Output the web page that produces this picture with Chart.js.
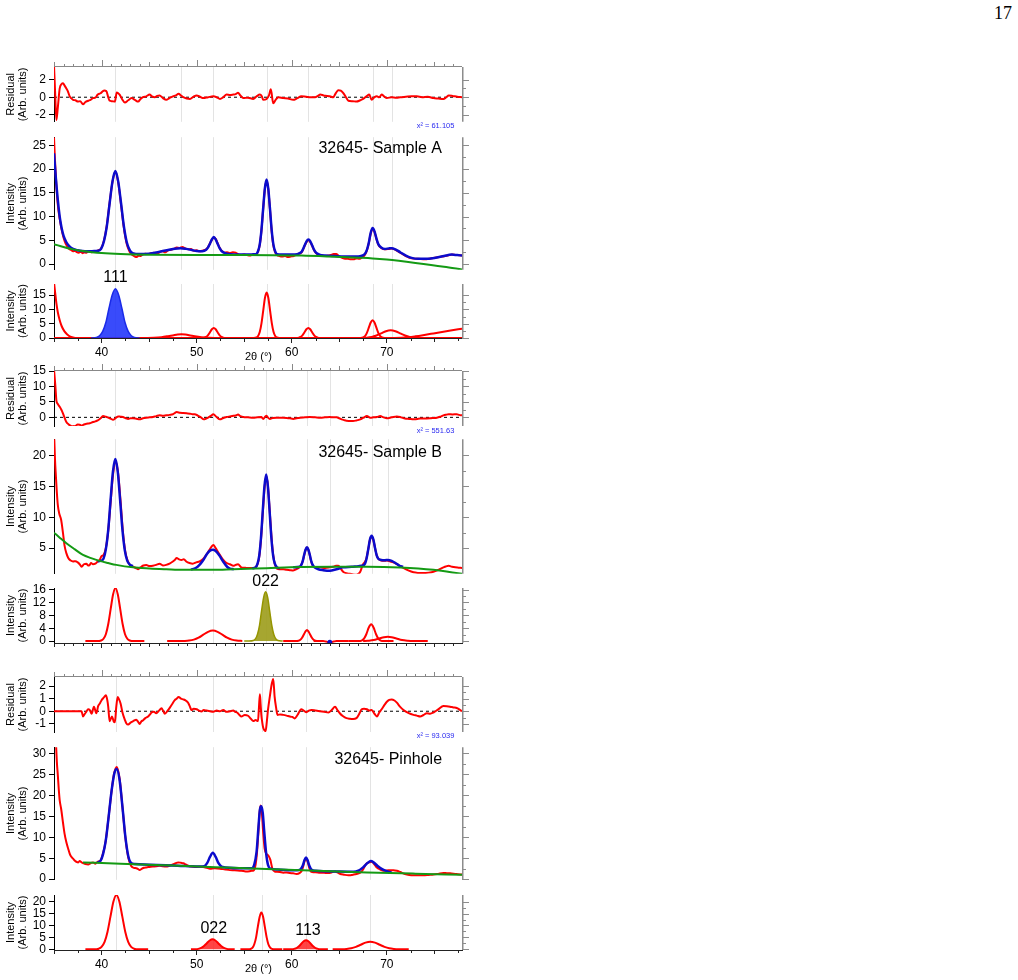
<!DOCTYPE html>
<html><head><meta charset="utf-8">
<script src="https://cdn.jsdelivr.net/npm/chart.js@4.4.1/dist/chart.umd.min.js"></script>
<style>
html,body{margin:0;padding:0;background:#fff;}
#page{position:relative;width:1018px;height:980px;overflow:hidden;background:#fff;}
#page canvas{position:absolute;left:0;}
#pn{position:absolute;left:950px;top:4px;width:62px;text-align:right;font:18px 'Liberation Serif','DejaVu Serif',serif;line-height:18px;color:#000;}
</style></head>
<body><div id="page"><div id="pn">17</div></div>
<script>
// ---------- axes ----------
const X_MIN = 35, X_MAX = 77.9;
const xMajorTicks = [40, 50, 60, 70];
const yTicksResA = [-2, 0, 2];
const yTicksIntA = [0, 5, 10, 15, 20, 25];
const yTicksPkA = [0, 5, 10, 15];
const yTicksResB = [0, 5, 10, 15];
const yTicksIntB = [5, 10, 15, 20];
const yTicksPkB = [0, 4, 8, 12, 16];
const yTicksResP = [-1, 0, 1, 2];
const yTicksIntP = [0, 5, 10, 15, 20, 25, 30];
const yTicksPkP = [0, 5, 10, 15, 20];

// ---------- fitted peak positions (vertical guide lines) ----------
const peaksA = [41.46, 48.34, 51.74, 57.36, 61.74, 68.5, 70.5];
const peaksB = [41.46, 51.67, 57.25, 61.6, 64.0, 68.4, 70.1];
const peaksP = [41.53, 51.67, 56.82, 61.5, 68.2];

const zeroLine = [[35, 0], [77.9, 0]];

// ---------- Sample A ----------
const resA = [[35.0,3.6],[35.12,0.5],[35.25,-2.6],[35.4,-1.2],[35.6,1.0],[35.8,1.5],[35.95,1.6],[36.1,1.35],[36.3,1.0],[36.45,0.7],[36.65,0.1],[36.8,-0.1],[37.0,-0.3],[37.25,-0.35],[37.5,-0.5],[37.75,-0.45],[38.05,-0.8],[38.3,-0.55],[38.6,-0.4],[38.85,-0.3],[39.1,-0.1],[39.35,-0.05],[39.6,0.3],[39.9,0.45],[40.15,0.7],[40.3,0.75],[40.5,0.7],[40.7,0.0],[40.85,-0.4],[41.1,-0.45],[41.4,-0.5],[41.6,0.55],[41.75,0.45],[41.9,0.3],[42.15,-0.2],[42.45,-0.6],[42.8,-0.35],[43.15,-0.1],[43.5,-0.3],[43.85,-0.5],[44.1,-0.2],[44.35,0.0],[44.7,0.1],[45.05,0.3],[45.3,0.1],[45.6,0.0],[45.85,0.15],[46.1,0.2],[46.45,-0.1],[46.8,-0.3],[47.15,-0.1],[47.5,0.1],[47.8,0.2],[48.1,0.4],[48.35,0.2],[48.6,0.0],[48.95,-0.15],[49.3,-0.2],[49.65,0.05],[50.0,0.2],[50.35,0.05],[50.7,-0.1],[51.2,0.0],[51.75,0.1],[52.1,0.0],[52.45,-0.2],[52.8,0.0],[53.15,0.3],[53.5,0.25],[53.85,0.3],[54.1,0.35],[54.35,0.5],[54.6,0.2],[54.9,-0.1],[55.4,-0.05],[55.95,-0.2],[56.3,0.1],[56.65,0.3],[56.85,0.1],[57.0,-0.3],[57.35,-0.2],[57.6,0.2],[57.8,0.9],[58.05,-0.7],[58.3,-0.3],[58.6,0.0],[59.1,-0.1],[59.6,-0.15],[60.15,-0.3],[60.6,-0.1],[61.0,0.1],[61.5,0.05],[62.0,0.0],[62.45,0.0],[62.75,0.15],[63.0,0.3],[63.35,0.2],[63.7,0.15],[64.0,0.1],[64.35,0.0],[64.65,0.5],[64.9,0.8],[65.15,0.75],[65.4,0.5],[65.7,0.0],[65.95,-0.4],[66.4,-0.45],[66.8,-0.5],[67.2,-0.35],[67.5,-0.2],[67.85,0.1],[68.15,0.3],[68.4,-0.3],[68.7,0.0],[68.95,0.1],[69.2,0.0],[69.45,0.3],[69.7,0.1],[70.0,-0.1],[70.5,0.0],[71.0,-0.05],[71.4,0.0],[72.0,0.05],[72.6,0.1],[73.15,0.1],[73.7,0.0],[74.3,0.05],[74.9,-0.1],[75.4,-0.15],[75.95,-0.2],[76.25,0.0],[76.5,0.2],[76.9,0.15],[77.4,0.05],[77.9,0.0]];

const dataA = [[35.0,26.7],[35.1,22],[35.25,16.5],[35.4,12.5],[35.6,9.5],[35.8,7.3],[36.0,5.6],[36.2,4.4],[36.4,3.7],[36.6,3.2],[36.8,3.0],[37.0,2.7],[37.2,2.8],[37.4,2.5],[37.6,2.4],[37.8,2.6],[38.0,2.3],[38.2,2.5],[38.4,2.4],[38.6,2.7],[38.8,2.6],[39.0,2.5],[39.2,2.7],[39.4,2.6],[39.65,2.9],[39.95,3.3],[40.25,4.9],[40.55,8.1],[40.85,12.9],[41.15,17.3],[41.45,19.5],[41.75,17.2],[42.05,12.5],[42.35,7.6],[42.65,4.2],[42.95,2.6],[43.25,1.9],[43.5,1.6],[43.7,1.5],[43.9,1.8],[44.1,1.7],[44.3,2.0],[44.6,2.2],[44.9,2.1],[45.2,2.3],[45.5,2.4],[45.8,2.2],[46.1,2.5],[46.4,2.7],[46.7,2.5],[47.0,2.9],[47.3,3.0],[47.6,3.2],[47.9,3.5],[48.2,3.4],[48.5,3.6],[48.8,3.3],[49.1,3.1],[49.4,3.2],[49.7,2.8],[50.0,2.9],[50.3,2.7],[50.6,2.8],[51.0,3.1],[51.2,3.6],[51.4,4.4],[51.6,5.1],[51.8,5.6],[52.0,5.3],[52.2,4.4],[52.4,3.5],[52.6,2.9],[52.9,2.4],[53.2,2.5],[53.5,2.3],[53.8,2.5],[54.1,2.4],[54.4,2.0],[54.7,1.9],[55.0,2.0],[55.3,1.9],[55.6,1.8],[55.9,2.0],[56.25,2.0],[56.45,2.6],[56.63,4.0],[56.81,7.0],[56.99,11.5],[57.17,15.7],[57.35,17.6],[57.53,15.8],[57.71,11.5],[57.89,6.9],[58.07,3.9],[58.25,2.5],[58.45,1.9],[58.7,1.7],[59.0,1.6],[59.3,1.7],[59.6,1.5],[59.9,1.6],[60.2,1.7],[60.6,2.1],[61.0,2.4],[61.15,2.9],[61.35,3.8],[61.55,4.6],[61.75,5.0],[61.95,4.6],[62.15,3.8],[62.35,2.9],[62.55,2.3],[62.9,1.9],[63.2,1.8],[63.5,1.7],[63.8,1.8],[64.1,1.9],[64.4,2.1],[64.7,2.1],[65.0,1.6],[65.3,1.3],[65.6,1.1],[65.9,1.1],[66.2,1.0],[66.5,1.0],[66.8,1.2],[67.1,1.1],[67.3,1.3],[67.7,2.0],[67.9,2.9],[68.1,4.4],[68.3,6.4],[68.5,7.4],[68.7,6.8],[68.9,5.3],[69.1,4.1],[69.4,3.4],[69.8,3.1],[70.2,3.2],[70.5,3.3],[70.9,3.0],[71.4,2.4],[72.0,1.7],[72.6,1.2],[73.3,1.1],[74.0,1.0],[74.6,1.2],[75.2,1.4],[75.8,1.6],[76.4,1.8],[76.9,2.0],[77.4,1.9],[77.9,1.8]];

const fitA = [[35.0,23.3],[35.1,20.5],[35.2,18.0],[35.3,15.6],[35.4,13.5],[35.5,11.6],[35.6,10.0],[35.7,8.7],[35.8,7.6],[36.0,6.0],[36.3,4.6],[36.6,3.8],[37.0,3.2],[37.5,2.9],[38.0,2.75],[38.5,2.7],[39.0,2.72],[39.35,2.75],[39.65,2.8],[39.95,3.2],[40.25,4.8],[40.55,7.9],[40.85,12.8],[41.15,17.4],[41.45,19.6],[41.75,17.4],[42.05,12.8],[42.35,7.9],[42.65,4.6],[42.95,3.0],[43.25,2.3],[43.6,2.15],[44.0,2.1],[45.0,2.2],[46.0,2.55],[47.0,2.95],[47.7,3.25],[48.3,3.35],[48.9,3.2],[49.5,2.95],[50.0,2.75],[50.6,2.7],[51.0,3.0],[51.2,3.5],[51.4,4.3],[51.6,5.2],[51.8,5.7],[52.0,5.2],[52.2,4.3],[52.4,3.4],[52.6,2.8],[53.0,2.3],[53.5,2.1],[54.5,2.0],[55.5,2.0],[56.0,2.05],[56.25,2.1],[56.45,2.7],[56.63,4.1],[56.81,7.1],[56.99,11.6],[57.17,15.9],[57.35,17.8],[57.53,15.9],[57.71,11.6],[57.89,7.1],[58.07,4.1],[58.25,2.7],[58.45,2.1],[59.0,2.0],[60.0,2.0],[60.6,2.1],[61.0,2.5],[61.15,3.0],[61.35,3.9],[61.55,4.8],[61.75,5.2],[61.95,4.8],[62.15,3.9],[62.35,3.0],[62.55,2.4],[62.9,2.0],[63.5,1.8],[64.5,1.7],[66.0,1.6],[67.0,1.6],[67.3,1.7],[67.7,2.2],[67.9,3.0],[68.1,4.5],[68.3,6.6],[68.5,7.6],[68.7,6.9],[68.9,5.4],[69.1,4.2],[69.4,3.5],[69.8,3.2],[70.2,3.3],[70.5,3.35],[70.9,3.1],[71.4,2.5],[72.0,1.8],[72.6,1.3],[73.3,1.1],[74.0,1.1],[75.0,1.3],[76.0,1.7],[76.8,2.0],[77.4,1.9],[77.9,1.8]];

const bgA = [[35,4.2],[36,3.6],[37,3.1],[38,2.75],[39,2.5],[40,2.32],[42,2.12],[45,1.97],[50,1.9],[55,1.9],[58,1.88],[61,1.8],[64,1.6],[67,1.35],[68.5,1.2],[70,0.95],[73,0.25],[76,-0.55],[77.9,-1.15]];

const compA_low = [[35.0,19.5],[35.1,16.5],[35.25,12.2],[35.4,9.0],[35.6,6.2],[35.8,4.2],[36.1,2.3],[36.4,1.2],[36.65,0.6],[37.0,0.2],[37.4,0],[38,0]];
const compA_111 = [[38.9,0],[39.46,0.19],[39.79,0.76],[40.12,2.3],[40.46,5.5],[40.79,10.5],[41.13,15.1],[41.46,17.2],[41.79,15.1],[42.13,10.5],[42.46,5.5],[42.8,2.3],[43.13,0.76],[43.46,0.19],[44.0,0]];
const compA_48 = [[44.5,0],[45.5,0.1],[46.3,0.3],[47.0,0.65],[47.6,1.0],[48.0,1.2],[48.4,1.3],[48.8,1.2],[49.2,1.0],[49.8,0.6],[50.5,0.27],[51.3,0.08],[52.2,0]];
const compA_52 = [[50.4,0],[50.8,0.11],[51.0,0.38],[51.2,1.0],[51.4,2.03],[51.6,3.05],[51.8,3.5],[52.0,3.05],[52.2,2.03],[52.4,1.0],[52.6,0.38],[52.8,0.11],[53.2,0]];
const compA_57 = [[55.9,0],[56.28,0.18],[56.46,0.7],[56.64,2.15],[56.82,5.2],[57.0,9.6],[57.18,14.0],[57.36,15.9],[57.54,14.0],[57.72,9.6],[57.9,5.2],[58.08,2.15],[58.26,0.7],[58.44,0.18],[58.8,0]];
const compA_62 = [[60.3,0],[60.74,0.11],[60.94,0.38],[61.14,1.0],[61.34,2.03],[61.54,3.05],[61.74,3.5],[61.94,3.05],[62.14,2.03],[62.34,1.0],[62.54,0.38],[62.74,0.11],[63.1,0]];
const compA_68 = [[67.1,0],[67.5,0.2],[67.7,0.67],[67.9,1.8],[68.1,3.6],[68.3,5.4],[68.5,6.2],[68.7,5.4],[68.9,3.6],[69.1,1.8],[69.3,0.67],[69.5,0.2],[69.9,0]];
const compA_70 = [[67.0,0],[67.9,0.12],[68.4,0.36],[68.9,0.88],[69.4,1.64],[69.9,2.38],[70.4,2.7],[70.9,2.38],[71.4,1.64],[71.9,0.88],[72.4,0.36],[72.9,0.12],[73.8,0]];
const compA_rise = [[70.5,0],[71.5,0.1],[72.3,0.3],[73.0,0.6],[73.8,1.0],[74.9,1.6],[75.8,2.1],[76.7,2.6],[77.9,3.25]];

// ---------- Sample B ----------
const resB = [[35.0,15.5],[35.15,9.9],[35.25,5.5],[35.4,4.3],[35.6,3.4],[35.8,2.3],[35.95,1.2],[36.1,0.0],[36.3,-1.5],[36.55,-2.3],[36.8,-2.8],[37.0,-2.9],[37.2,-2.9],[37.5,-2.3],[37.7,-2.4],[37.9,-2.7],[38.15,-2.3],[38.4,-2.1],[38.75,-1.9],[39.1,-1.5],[39.35,-1.3],[39.6,-1.0],[39.9,-0.3],[40.15,0.4],[40.45,0.2],[40.7,-0.1],[41.0,-0.5],[41.2,-0.8],[41.5,-0.2],[41.75,0.3],[42.0,0.2],[42.25,0.1],[42.5,-0.2],[42.8,-0.5],[43.05,-0.3],[43.3,-0.3],[43.65,-0.45],[44.0,-0.65],[44.35,-0.3],[44.7,-0.1],[45.05,0.0],[45.4,0.1],[45.75,0.4],[46.1,0.65],[46.45,0.5],[46.8,0.65],[47.15,0.8],[47.5,1.0],[47.7,1.4],[47.9,1.7],[48.25,1.5],[48.6,1.4],[48.95,1.3],[49.3,1.2],[49.55,1.0],[49.8,1.0],[50.15,0.5],[50.45,0.0],[50.75,-0.65],[51.0,-0.4],[51.2,-0.1],[51.5,0.5],[51.75,1.0],[52.1,0.1],[52.45,-0.65],[52.8,-0.2],[53.15,0.1],[53.5,0.3],[53.85,0.5],[54.1,0.6],[54.35,0.9],[54.6,0.4],[54.9,0.1],[55.4,0.0],[55.95,-0.1],[56.4,0.05],[56.8,0.1],[57.0,-0.5],[57.2,0.2],[57.35,0.5],[57.5,-0.1],[57.7,-0.5],[58.0,-0.2],[58.4,-0.1],[58.9,-0.15],[59.45,-0.2],[59.8,-0.3],[60.15,-0.5],[60.5,-0.3],[60.85,-0.1],[61.4,0.0],[61.9,0.1],[62.45,0.0],[63.0,-0.1],[63.5,0.0],[64.0,0.1],[64.35,0.0],[64.7,0.0],[65.0,-0.3],[65.25,-0.65],[65.5,-0.9],[65.75,-1.1],[66.1,-1.15],[66.45,-1.2],[66.8,-1.0],[67.2,-0.65],[67.55,-0.1],[67.9,0.4],[68.25,-0.1],[68.6,0.0],[68.95,0.1],[69.3,0.4],[69.65,0.0],[70.0,-0.3],[70.5,0.0],[71.05,0.3],[71.5,0.0],[71.9,-0.4],[72.35,-0.5],[72.8,-0.65],[73.15,-0.55],[73.5,-0.4],[74.0,-0.35],[74.55,-0.3],[74.9,-0.2],[75.25,-0.1],[75.6,0.2],[75.95,0.65],[76.2,0.85],[76.5,1.0],[76.9,0.95],[77.35,1.0],[77.6,0.8],[77.9,0.65]];

const dataB = [[35.0,24],[35.1,19.5],[35.2,16.6],[35.3,14.0],[35.4,12.0],[35.55,10.6],[35.75,9.6],[35.95,7.4],[36.1,5.5],[36.3,4.2],[36.5,3.4],[36.75,3.0],[37.0,2.85],[37.25,2.9],[37.5,2.7],[37.7,2.4],[37.9,2.0],[38.15,2.4],[38.4,2.5],[38.6,2.2],[38.75,2.3],[38.9,2.6],[39.1,2.4],[39.35,2.5],[39.6,2.85],[39.8,3.1],[40.0,3.7],[40.2,3.9],[40.45,5.0],[40.7,7.8],[40.95,12.3],[41.2,16.8],[41.5,19.0],[41.75,17.0],[42.0,12.6],[42.25,7.6],[42.5,4.4],[42.75,2.9],[43.0,2.3],[43.3,2.0],[43.6,1.8],[43.85,1.6],[44.1,1.9],[44.4,2.2],[44.7,2.3],[45.05,2.1],[45.4,2.15],[45.75,2.3],[46.1,2.5],[46.45,2.2],[46.8,2.3],[47.15,2.5],[47.5,2.85],[47.7,3.1],[47.9,3.4],[48.15,3.2],[48.4,3.1],[48.65,3.2],[48.9,2.85],[49.25,2.6],[49.6,2.5],[49.95,2.7],[50.3,2.85],[50.65,3.2],[51.0,3.9],[51.3,4.6],[51.55,5.2],[51.75,5.5],[52.0,5.0],[52.2,4.5],[52.45,3.9],[52.8,3.1],[53.15,2.6],[53.5,2.4],[53.85,2.15],[54.1,2.3],[54.35,2.4],[54.7,1.9],[55.0,1.85],[55.25,1.8],[55.6,1.8],[55.95,1.8],[56.2,1.9],[56.4,2.4],[56.58,3.6],[56.76,6.3],[56.95,10.6],[57.13,14.6],[57.31,16.7],[57.49,15.1],[57.67,11.3],[57.86,7.0],[58.04,4.0],[58.22,2.4],[58.45,1.7],[58.7,1.6],[59.1,1.6],[59.45,1.5],[59.8,1.45],[60.15,1.4],[60.5,1.6],[60.85,2.0],[61.0,2.3],[61.15,2.9],[61.3,3.8],[61.45,4.7],[61.6,5.1],[61.75,4.7],[61.9,3.8],[62.05,2.8],[62.2,2.2],[62.4,1.95],[62.7,1.9],[63.0,1.9],[63.5,1.8],[64.0,1.9],[64.35,2.0],[64.65,2.15],[64.9,2.15],[65.15,1.7],[65.4,1.2],[65.75,0.95],[66.1,0.86],[66.45,0.75],[66.8,0.7],[67.0,0.85],[67.2,1.2],[67.35,1.8],[67.5,2.4],[67.7,2.8],[67.86,3.4],[68.04,4.8],[68.22,6.3],[68.4,6.9],[68.58,6.3],[68.76,5.0],[68.94,3.8],[69.1,3.3],[69.4,3.0],[69.7,2.95],[70.0,3.0],[70.3,2.9],[70.6,2.75],[70.9,2.55],[71.3,2.2],[71.75,1.8],[72.25,1.4],[72.8,1.1],[73.3,1.0],[73.85,0.97],[74.4,1.05],[74.9,1.2],[75.4,1.5],[75.95,1.9],[76.2,2.05],[76.5,2.15],[76.85,2.0],[77.2,1.9],[77.55,1.85],[77.9,1.8]];

const fitB = [
  [[39.6,2.9],[39.9,2.95],[40.2,3.3],[40.45,4.8],[40.7,7.9],[40.95,12.8],[41.2,17.4],[41.45,19.4],[41.7,17.4],[41.95,12.8],[42.2,7.9],[42.45,4.6],[42.7,3.0],[43.0,2.3],[43.3,2.1]],
  [[49.4,1.55],[49.9,1.8],[50.3,2.3],[50.7,3.1],[51.1,4.1],[51.4,4.6],[51.7,4.73],[52.0,4.55],[52.4,3.8],[52.8,2.8],[53.2,2.0],[53.5,1.7],[53.9,1.6]],
  [[55.85,1.75],[56.2,1.9],[56.4,2.5],[56.58,3.8],[56.76,6.6],[56.95,11.0],[57.13,15.0],[57.31,16.9],[57.49,15.0],[57.67,11.0],[57.86,6.6],[58.04,3.8],[58.22,2.5],[58.45,1.9],[58.75,1.75]],
  [[60.15,1.9],[60.85,2.0],[61.0,2.3],[61.15,2.9],[61.3,3.9],[61.45,4.75],[61.6,5.16],[61.75,4.75],[61.9,3.9],[62.05,2.9],[62.2,2.3],[62.4,1.9],[62.8,1.6],[63.3,1.45],[64.0,1.35],[64.7,1.6],[65.4,1.9],[66.3,2.0],[67.0,2.1],[67.5,2.2],[67.7,2.5],[67.86,3.3],[68.04,4.8],[68.22,6.4],[68.4,7.0],[68.58,6.4],[68.76,5.0],[68.94,3.8],[69.1,3.3],[69.4,3.1],[69.8,3.05],[70.1,3.1],[70.5,2.95],[70.9,2.6],[71.3,2.2],[71.7,2.0]]
];

const bgB = [[35,7.5],[35.6,6.7],[36.3,5.8],[37.2,4.8],[38.05,3.9],[38.9,3.4],[39.8,2.95],[40.7,2.6],[41.55,2.3],[43.3,1.9],[45.05,1.72],[46.8,1.6],[48.6,1.5],[51.75,1.5],[53.85,1.6],[57.35,1.77],[60.85,1.94],[64.35,2.0],[67.9,2.0],[71.4,1.88],[74.9,1.5],[77.9,0.86]];

const compB_41 = [[38.3,0],[39.5,0],[39.96,0.18],[40.21,0.73],[40.46,2.2],[40.71,5.4],[40.96,10.0],[41.21,14.5],[41.46,16.5],[41.71,14.5],[41.96,10.0],[42.21,5.4],[42.46,2.2],[42.71,0.73],[42.96,0.18],[43.4,0],[44.5,0]];
const compB_52 = [[46.9,0],[48.2,0],[48.7,0.04],[49.2,0.15],[49.7,0.44],[50.2,1.05],[50.7,1.98],[51.2,2.87],[51.7,3.25],[52.2,2.87],[52.7,1.98],[53.2,1.05],[53.7,0.44],[54.2,0.15],[54.8,0.03]];
const compB_022 = [[55.0,0],[55.5,0],[55.96,0.17],[56.18,0.67],[56.39,2.07],[56.61,4.9],[56.82,9.3],[57.04,13.5],[57.25,15.3],[57.47,13.5],[57.68,9.3],[57.9,4.9],[58.11,2.07],[58.33,0.67],[58.54,0.17],[59.05,0]];
const compB_62 = [[59.1,0],[60.4,0],[60.7,0.1],[60.9,0.4],[61.1,1.1],[61.3,2.2],[61.45,3.0],[61.6,3.45],[61.75,3.0],[61.9,2.2],[62.1,1.1],[62.3,0.4],[62.5,0.1],[62.8,0],[63.3,0]];
const compB_64 = [[62.3,0],[63.3,0],[63.6,-0.15],[64.0,-0.4],[64.4,-0.15],[64.7,0],[66.0,0]];
const compB_68 = [[66.0,0],[67.0,0],[67.35,0.16],[67.6,0.74],[67.85,2.2],[68.1,4.2],[68.35,5.2],[68.6,4.2],[68.85,2.2],[69.1,0.74],[69.35,0.16],[69.7,0],[70.7,0]];
const compB_70 = [[67.5,0],[68.0,0.1],[68.6,0.3],[69.2,0.8],[69.7,1.22],[70.1,1.36],[70.5,1.22],[71.0,0.8],[71.6,0.3],[72.2,0.1],[72.8,0.02],[74.3,0]];
const compB_dot = [[64.0,-0.4]];

// ---------- Pinhole ----------
const resP = [[35.0,0],[37.9,0],[38.05,-0.42],[38.2,-0.25],[38.35,-0.1],[38.6,0.16],[38.75,0.1],[38.95,-0.2],[39.2,0.36],[39.45,-0.16],[39.65,0.42],[39.85,0.65],[40.0,0.88],[40.25,1.1],[40.45,1.27],[40.6,0.9],[40.7,0.36],[40.85,-0.8],[41.0,-0.55],[41.1,-0.42],[41.3,-0.85],[41.4,-0.88],[41.55,0.36],[41.7,1.14],[41.8,1.0],[42.0,0.62],[42.2,-0.1],[42.45,-0.68],[42.6,-0.95],[42.8,-1.06],[43.05,-0.9],[43.3,-0.8],[43.65,-0.68],[43.85,-0.85],[44.0,-1.01],[44.2,-0.8],[44.35,-0.73],[44.6,-0.55],[44.9,-0.42],[45.1,-0.25],[45.25,-0.1],[45.5,-0.05],[45.75,-0.16],[46.05,0.05],[46.3,0.23],[46.5,0.0],[46.65,-0.2],[46.95,0.05],[47.2,0.31],[47.45,0.6],[47.7,0.88],[47.9,1.0],[48.1,1.14],[48.35,1.0],[48.6,0.94],[48.85,0.85],[49.1,0.68],[49.3,0.35],[49.45,0.1],[49.7,0.2],[50.0,0.16],[50.25,0.05],[50.5,-0.03],[50.75,0.1],[51.05,0.05],[51.4,0.0],[51.75,-0.05],[52.1,0.05],[52.45,0.0],[52.8,0.1],[53.15,-0.05],[53.5,0.0],[53.85,0.05],[54.05,-0.05],[54.25,-0.1],[54.5,-0.3],[54.7,-0.42],[55.05,-0.3],[55.4,-0.36],[55.7,-0.6],[55.95,-0.78],[56.2,-0.7],[56.45,-0.78],[56.55,0.3],[56.65,1.35],[56.72,0.6],[56.8,-0.29],[56.9,-0.9],[57.0,-1.32],[57.12,-1.5],[57.25,-1.58],[57.38,-0.8],[57.5,0.1],[57.7,1.2],[57.9,2.18],[58.05,2.57],[58.2,1.14],[58.35,0.3],[58.5,-0.29],[58.8,-0.25],[59.1,-0.29],[59.45,-0.35],[59.8,-0.42],[60.05,-0.45],[60.3,-0.57],[60.6,-0.3],[61.0,0.16],[61.25,0.05],[61.55,-0.08],[61.8,0.05],[62.1,0.1],[62.5,0.05],[62.95,0.0],[63.4,-0.05],[63.85,-0.1],[64.2,0.1],[64.55,0.36],[64.8,0.1],[65.05,-0.16],[65.4,-0.4],[65.75,-0.55],[66.1,-0.6],[66.45,-0.62],[66.8,-0.55],[67.1,-0.2],[67.35,0.16],[67.6,0.2],[67.9,0.16],[68.15,0.05],[68.4,0.1],[68.7,-0.2],[68.95,-0.42],[69.2,-0.1],[69.45,0.16],[69.75,0.5],[70.0,0.75],[70.25,0.9],[70.5,0.94],[70.8,0.85],[71.05,0.68],[71.4,0.35],[71.75,0.1],[72.3,-0.15],[72.8,-0.29],[73.15,-0.35],[73.5,-0.42],[73.85,-0.3],[74.2,-0.16],[74.55,-0.2],[74.9,-0.1],[75.4,0.15],[75.95,0.42],[76.3,0.4],[76.65,0.36],[77.0,0.3],[77.35,0.26],[77.6,0.15],[77.9,0.0]];

const dataP = [[35.2,33],[35.3,28],[35.4,24.9],[35.5,21.5],[35.6,18.8],[35.75,16.8],[35.95,13.4],[36.1,11.0],[36.3,8.8],[36.5,7.2],[36.65,6.1],[36.8,5.4],[37.0,4.9],[37.2,4.4],[37.35,4.15],[37.55,4.0],[37.7,4.3],[37.9,4.0],[38.05,3.85],[38.3,3.6],[38.6,3.5],[38.85,3.8],[39.1,4.0],[39.35,3.7],[39.6,4.15],[39.85,4.3],[40.1,5.7],[40.4,8.6],[40.7,14.0],[41.0,20.0],[41.3,25.0],[41.6,26.8],[41.9,24.0],[42.2,17.2],[42.5,10.0],[42.8,5.3],[43.1,3.2],[43.4,2.7],[43.65,2.6],[43.85,2.4],[44.0,2.2],[44.25,2.5],[44.45,2.7],[44.7,2.8],[45.05,2.9],[45.4,3.0],[45.75,3.05],[46.1,3.2],[46.45,3.05],[46.8,3.0],[47.15,3.2],[47.5,3.5],[47.8,3.8],[48.05,4.0],[48.35,3.9],[48.6,3.8],[48.85,3.5],[49.1,3.2],[49.45,3.0],[49.8,2.9],[50.25,2.95],[50.7,2.9],[51.05,2.7],[51.4,2.5],[51.9,2.6],[52.45,2.5],[53.0,2.3],[53.5,2.15],[54.0,2.1],[54.55,2.0],[54.9,1.95],[55.25,1.85],[55.55,1.9],[55.8,2.0],[56.0,2.1],[56.2,3.5],[56.35,6.5],[56.5,11.5],[56.6,15.5],[56.72,17.6],[56.85,16.0],[57.0,11.0],[57.15,7.3],[57.35,6.0],[57.55,5.6],[57.75,4.6],[57.95,2.6],[58.2,1.8],[58.45,1.75],[58.75,1.7],[59.1,1.55],[59.45,1.6],[59.8,1.46],[60.15,1.4],[60.5,1.23],[60.85,1.5],[61.05,2.0],[61.2,3.0],[61.35,4.3],[61.5,5.0],[61.65,4.3],[61.8,3.0],[61.95,2.0],[62.15,1.7],[62.5,1.65],[62.95,1.54],[63.4,1.5],[63.85,1.46],[64.2,1.6],[64.55,1.85],[64.8,1.6],[65.1,1.23],[65.5,1.05],[65.95,0.92],[66.5,1.08],[66.9,1.3],[67.2,1.54],[67.5,2.3],[67.7,3.2],[67.9,3.77],[68.15,4.0],[68.4,4.15],[68.7,3.5],[68.95,2.77],[69.3,2.3],[69.65,2.0],[70.0,2.05],[70.35,2.15],[70.7,2.15],[71.05,2.0],[71.4,1.7],[71.9,1.23],[72.35,1.0],[72.8,0.92],[73.3,0.95],[73.85,0.92],[74.4,1.0],[74.9,1.08],[75.4,1.25],[75.95,1.46],[76.3,1.42],[76.65,1.38],[77.3,1.2],[77.9,1.08]];

const fitP = [[39.6,4.0],[39.9,4.4],[40.15,5.9],[40.45,9.3],[40.75,15.0],[41.05,21.0],[41.35,25.3],[41.6,26.3],[41.9,23.6],[42.2,17.2],[42.5,10.2],[42.8,5.6],[43.1,3.9],[43.5,3.6],[45.0,3.45],[48.0,3.2],[50.3,3.0],[50.8,3.1],[51.1,3.8],[51.4,5.3],[51.7,6.3],[52.0,5.3],[52.3,3.8],[52.6,3.0],[53.0,2.8],[55.0,2.6],[55.8,2.6],[56.05,3.4],[56.3,6.5],[56.5,12.5],[56.65,16.6],[56.8,17.4],[56.95,15.8],[57.1,11.5],[57.3,6.3],[57.5,3.4],[57.75,2.5],[58.5,2.3],[60.5,2.1],[60.9,2.3],[61.15,3.2],[61.35,4.6],[61.5,5.15],[61.65,4.6],[61.85,3.2],[62.1,2.2],[62.5,2.0],[65.0,1.8],[66.5,1.75],[67.0,2.0],[67.5,2.8],[68.0,3.9],[68.3,4.3],[68.6,4.0],[69.0,3.2],[69.5,2.4],[70.0,1.9],[70.5,1.55]];

const bgP = [[38.05,4.0],[42,3.7],[46.8,3.3],[52,2.85],[57.35,2.4],[62,2.05],[67.9,1.6],[73,1.3],[77.9,1.05]];

const compP_41 = [[38.3,0],[39.2,0],[39.7,0.25],[40.0,1.0],[40.32,3.1],[40.63,7.4],[40.94,13.8],[41.25,20.1],[41.56,22.8],[41.87,20.1],[42.18,13.8],[42.49,7.4],[42.8,3.1],[43.11,1.0],[43.42,0.25],[43.9,0],[44.9,0]];
const compP_022 = [[49.4,0],[49.87,0.05],[50.17,0.18],[50.47,0.57],[50.77,1.36],[51.07,2.55],[51.37,3.7],[51.67,4.2],[51.97,3.7],[52.27,2.55],[52.57,1.36],[52.87,0.57],[53.17,0.18],[53.47,0.05],[54.0,0]];
const compP_57 = [[54.6,0],[55.4,0],[55.69,0.17],[55.88,0.68],[56.06,2.1],[56.25,5.0],[56.43,9.4],[56.62,13.6],[56.8,15.5],[56.99,13.6],[57.17,9.4],[57.36,5.0],[57.54,2.1],[57.73,0.68],[57.91,0.17],[58.3,0],[59.0,0]];
const compP_113 = [[59.1,0],[60.0,0.04],[60.25,0.17],[60.5,0.51],[60.75,1.23],[61.0,2.3],[61.25,3.35],[61.5,3.8],[61.75,3.35],[62.0,2.3],[62.25,1.23],[62.5,0.51],[62.75,0.17],[63.0,0.04],[63.8,0]];
const compP_68 = [[64.3,0],[65.25,0.04],[65.75,0.14],[66.25,0.4],[66.75,1.0],[67.25,1.9],[67.75,2.8],[68.25,3.2],[68.75,2.8],[69.25,1.9],[69.75,1.0],[70.25,0.4],[70.75,0.14],[71.25,0.04],[72.3,0]];

// ---------- styling ----------
const FONT = "'Liberation Sans', Arial, Helvetica, sans-serif";
const RED = '#ff0000', BLUE = '#0b0bcc', GREEN = '#149a14';
const pts = a => a.map(([x, y]) => ({x, y}));
function ln(arr, color, width, extra) {
  return Object.assign({data: pts(arr), borderColor: color, backgroundColor: color, borderWidth: width,
    pointRadius: 0, fill: false, cubicInterpolationMode: 'monotone'}, extra || {});
}
const zeroDs = () => ln(zeroLine, '#000', 1, {borderDash: [3, 3], cubicInterpolationMode: 'default', tension: 0});
const RES_TITLE = ['Residual', '(Arb. units)'];
const INT_TITLE = ['Intensity', '(Arb. units)'];
const CHI = '#2a2af0';

const panels = [
  {top: 67, bottom: 122, padTop: 14, padBottom: 10, yMin: -2.8, yMax: 3.44, yTicks: yTicksResA, grid: peaksA, topAxis: true, yTitle: RES_TITLE,
   texts: [{t: 'x\u00b2 = 61.105', x: 77.1, y: -3.3, size: 7.5, color: CHI, align: 'right'}],
   datasets: [ln(resA, RED, 2), zeroDs()]},
  {top: 135, bottom: 270, padTop: 8, padBottom: 10, yMin: -1.2, yMax: 26.7, yTicks: yTicksIntA, grid: peaksA, yTitle: INT_TITLE,
   texts: [{t: '32645- Sample A', x: 75.8, y: 24.3, size: 16, color: '#000', align: 'right'}],
   datasets: [ln(bgA, GREEN, 2), ln(fitA, BLUE, 2.5), ln(dataA, RED, 2)]},
  {top: 284, bottom: 338, padTop: 18, padBottom: 35, yMin: 0, yMax: 18.9, yTicks: yTicksPkA, grid: peaksA, xAxis: 'labels', minorStep: 2.5, xTitle: true, yTitle: INT_TITLE,
   texts: [{t: '111', x: 41.46, y: 21.0, size: 16, color: '#000', align: 'center'}],
   datasets: [ln(compA_111, '#1a2ae8', 1.5, {fill: 'origin', backgroundColor: 'rgba(30,50,250,0.88)'}),
     ln(compA_low, RED, 2), ln(compA_48, RED, 2), ln(compA_52, RED, 2), ln(compA_57, RED, 2), ln(compA_62, RED, 2),
     ln(compA_68, RED, 2), ln(compA_70, RED, 2), ln(compA_rise, RED, 2), ln(zeroLine, RED, 2)]},
  {top: 371, bottom: 426, padTop: 14, padBottom: 12, yMin: -2.8, yMax: 15, yTicks: yTicksResB, grid: peaksB, topAxis: true, yTitle: RES_TITLE,
   texts: [{t: 'x\u00b2 = 551.63', x: 77.1, y: -4.46, size: 7.5, color: CHI, align: 'right'}],
   datasets: [ln(resB, RED, 2), zeroDs()]},
  {top: 439, bottom: 574, padTop: 10, padBottom: 10, yMin: 0.86, yMax: 22.6, yTicks: yTicksIntB, grid: peaksB, yTitle: INT_TITLE,
   texts: [{t: '32645- Sample B', x: 75.8, y: 20.4, size: 16, color: '#000', align: 'right'}],
   datasets: [ln(bgB, GREEN, 2)].concat(fitB.map(s => ln(s, BLUE, 2.5)), [ln(dataB, RED, 2)])},
  {top: 588, bottom: 643, padTop: 18, padBottom: 12, yMin: -0.6, yMax: 16.5, yTicks: yTicksPkB, grid: peaksB, xAxis: 'ticks', minorStep: 1, yTitle: INT_TITLE,
   texts: [{t: '022', x: 57.25, y: 18.6, size: 16, color: '#000', align: 'center'}],
   datasets: [ln(compB_dot, BLUE, 0, {pointRadius: 2.5, pointBackgroundColor: BLUE, pointBorderWidth: 0, showLine: false}),
     ln(compB_022, '#959500', 1.5, {fill: 'origin', backgroundColor: 'rgba(158,158,30,0.92)'}),
     ln(compB_41, RED, 2), ln(compB_52, RED, 2), ln(compB_62, RED, 2), ln(compB_64, RED, 2), ln(compB_68, RED, 2), ln(compB_70, RED, 2)]},
  {top: 677, bottom: 732, padTop: 14, padBottom: 12, yMin: -1.65, yMax: 2.72, yTicks: yTicksResP, grid: peaksP, topAxis: true, yTitle: RES_TITLE,
   texts: [{t: 'x\u00b2 = 93.039', x: 77.1, y: -2.0, size: 7.5, color: CHI, align: 'right'}],
   datasets: [ln(resP, RED, 2), zeroDs()]},
  {top: 745, bottom: 882, padTop: 8, padBottom: 8, yMin: -0.16, yMax: 31.5, yTicks: yTicksIntP, grid: peaksP, yTitle: INT_TITLE,
   texts: [{t: '32645- Pinhole', x: 75.8, y: 28.5, size: 16, color: '#000', align: 'right'}],
   datasets: [ln(bgP, GREEN, 2), ln(fitP, BLUE, 2.5), ln(dataP, RED, 2)]},
  {top: 895, bottom: 950, padTop: 12, padBottom: 30, yMin: -0.3, yMax: 22.8, yTicks: yTicksPkP, grid: peaksP, xAxis: 'labels', minorStep: 2.5, xTitle: true, yTitle: INT_TITLE,
   texts: [{t: '022', x: 51.8, y: 8.9, size: 16, color: '#000', align: 'center'}, {t: '113', x: 61.7, y: 7.7, size: 16, color: '#000', align: 'center'}],
   datasets: [ln(compP_022, RED, 2, {fill: 'origin', backgroundColor: 'rgba(255,35,35,0.85)'}),
     ln(compP_113, RED, 2, {fill: 'origin', backgroundColor: 'rgba(255,35,35,0.85)'}),
     ln(compP_41, RED, 2), ln(compP_57, RED, 2), ln(compP_68, RED, 2)]}
];

function decor(p) {
  return {
    id: 'decor',
    beforeDatasetsDraw(chart) {
      const {ctx, chartArea: a, scales: {x}} = chart;
      ctx.save();
      ctx.strokeStyle = '#e3e3e3'; ctx.lineWidth = 1;
      for (const v of p.grid) {
        const px = Math.round(x.getPixelForValue(v)) + 0.5;
        ctx.beginPath(); ctx.moveTo(px, a.top); ctx.lineTo(px, a.bottom); ctx.stroke();
      }
      ctx.restore();
    },
    afterDraw(chart) {
      const {ctx, chartArea: a, scales: {x, y}} = chart;
      ctx.save();
      // right axis (grey)
      ctx.strokeStyle = '#8c8c8c'; ctx.lineWidth = 1.5;
      ctx.beginPath(); ctx.moveTo(a.right + 0.75, a.top); ctx.lineTo(a.right + 0.75, a.bottom); ctx.stroke();
      ctx.lineWidth = 1;
      p.yTicks.forEach((v, i) => {
        const py = Math.round(y.getPixelForValue(v)) + 0.5;
        ctx.beginPath(); ctx.moveTo(a.right, py); ctx.lineTo(a.right + 7, py); ctx.stroke();
        if (i < p.yTicks.length - 1) {
          const m = (v + p.yTicks[i + 1]) / 2;
          const pm = Math.round(y.getPixelForValue(m)) + 0.5;
          ctx.beginPath(); ctx.moveTo(a.right, pm); ctx.lineTo(a.right + 4, pm); ctx.stroke();
        }
      });
      // top axis (residual panels)
      if (p.topAxis) {
        ctx.strokeStyle = '#888'; ctx.lineWidth = 1;
        ctx.beginPath(); ctx.moveTo(a.left, a.top - 0.5); ctx.lineTo(a.right, a.top - 0.5); ctx.stroke();
        for (let k = 35; k <= 77; k++) {
          const px = Math.round(x.getPixelForValue(k)) + 0.5;
          const len = k % 10 === 0 ? 7 : (k % 5 === 0 ? 5 : 3);
          ctx.beginPath(); ctx.moveTo(px, a.top); ctx.lineTo(px, a.top - len); ctx.stroke();
        }
      }
      // bottom minor ticks
      if (p.minorStep) {
        ctx.strokeStyle = '#222'; ctx.lineWidth = 1;
        for (let k = 0; X_MIN + k * p.minorStep <= X_MAX + 1e-9; k++) {
          const v = X_MIN + k * p.minorStep;
          if (xMajorTicks.some(t => Math.abs(t - v) < 1e-6)) continue;
          const px = Math.round(x.getPixelForValue(v)) + 0.5;
          const len = (Math.abs(v % 5) < 1e-6) ? 4 : 3;
          ctx.beginPath(); ctx.moveTo(px, a.bottom); ctx.lineTo(px, a.bottom + len); ctx.stroke();
        }
      }
      // y titles
      ctx.fillStyle = '#000'; ctx.font = '11px ' + FONT; ctx.textAlign = 'center'; ctx.textBaseline = 'middle';
      const cy = (a.top + a.bottom) / 2;
      [10.5, 22.5].forEach((tx, i) => {
        ctx.save(); ctx.translate(tx, cy); ctx.rotate(-Math.PI / 2); ctx.fillText(p.yTitle[i], 0, 0); ctx.restore();
      });
      // x title
      if (p.xTitle) {
        ctx.font = '11px ' + FONT; ctx.textAlign = 'center';
        ctx.fillText('2\u03b8 (\u00b0)', x.getPixelForValue(56.5), a.bottom + 18.5);
      }
      // annotations
      for (const t of p.texts) {
        ctx.font = t.size + 'px ' + FONT; ctx.fillStyle = t.color; ctx.textAlign = t.align; ctx.textBaseline = 'middle';
        ctx.fillText(t.t, x.getPixelForValue(t.x), y.getPixelForValue(t.y));
      }
      ctx.restore();
    }
  };
}

function buildPanel(p) {
  const page = document.getElementById('page');
  const c = document.createElement('canvas');
  const h = p.bottom - p.top + p.padTop + p.padBottom;
  c.width = 480; c.height = h;
  c.style.width = '480px'; c.style.height = h + 'px';
  c.style.top = (p.top - p.padTop) + 'px';
  page.appendChild(c);
  new Chart(c.getContext('2d'), {
    type: 'line',
    data: {datasets: p.datasets},
    options: {
      responsive: false, animation: false, devicePixelRatio: 1,
      layout: {padding: {left: 0, right: 18, top: p.padTop, bottom: p.xAxis ? 0 : p.padBottom}},
      plugins: {legend: {display: false}, tooltip: {enabled: false}, title: {display: false}},
      elements: {point: {radius: 0, hoverRadius: 0}},
      scales: {
        x: {
          type: 'linear', min: X_MIN, max: X_MAX, display: !!p.xAxis,
          afterFit: s => { s.height = p.xAxis ? p.padBottom : 0; },
          afterBuildTicks: s => { s.ticks = xMajorTicks.map(v => ({value: v})); },
          grid: {drawOnChartArea: false, drawTicks: true, tickLength: 5, color: '#222'},
          border: {display: true, color: '#222', width: 1},
          ticks: {display: p.xAxis === 'labels', autoSkip: false, maxRotation: 0, padding: 2, color: '#000', font: {family: FONT, size: 12}}
        },
        y: {
          type: 'linear', min: p.yMin, max: p.yMax,
          afterFit: s => { s.width = 54; },
          afterBuildTicks: s => { s.ticks = p.yTicks.map(v => ({value: v})); },
          grid: {drawOnChartArea: false, drawTicks: true, tickLength: 5, color: '#000'},
          border: {display: true, color: '#000', width: 1},
          ticks: {autoSkip: false, padding: 3, color: '#000', font: {family: FONT, size: 12}}
        }
      }
    },
    plugins: [decor(p)]
  });
}

panels.forEach(buildPanel);
</script>
</body></html>
